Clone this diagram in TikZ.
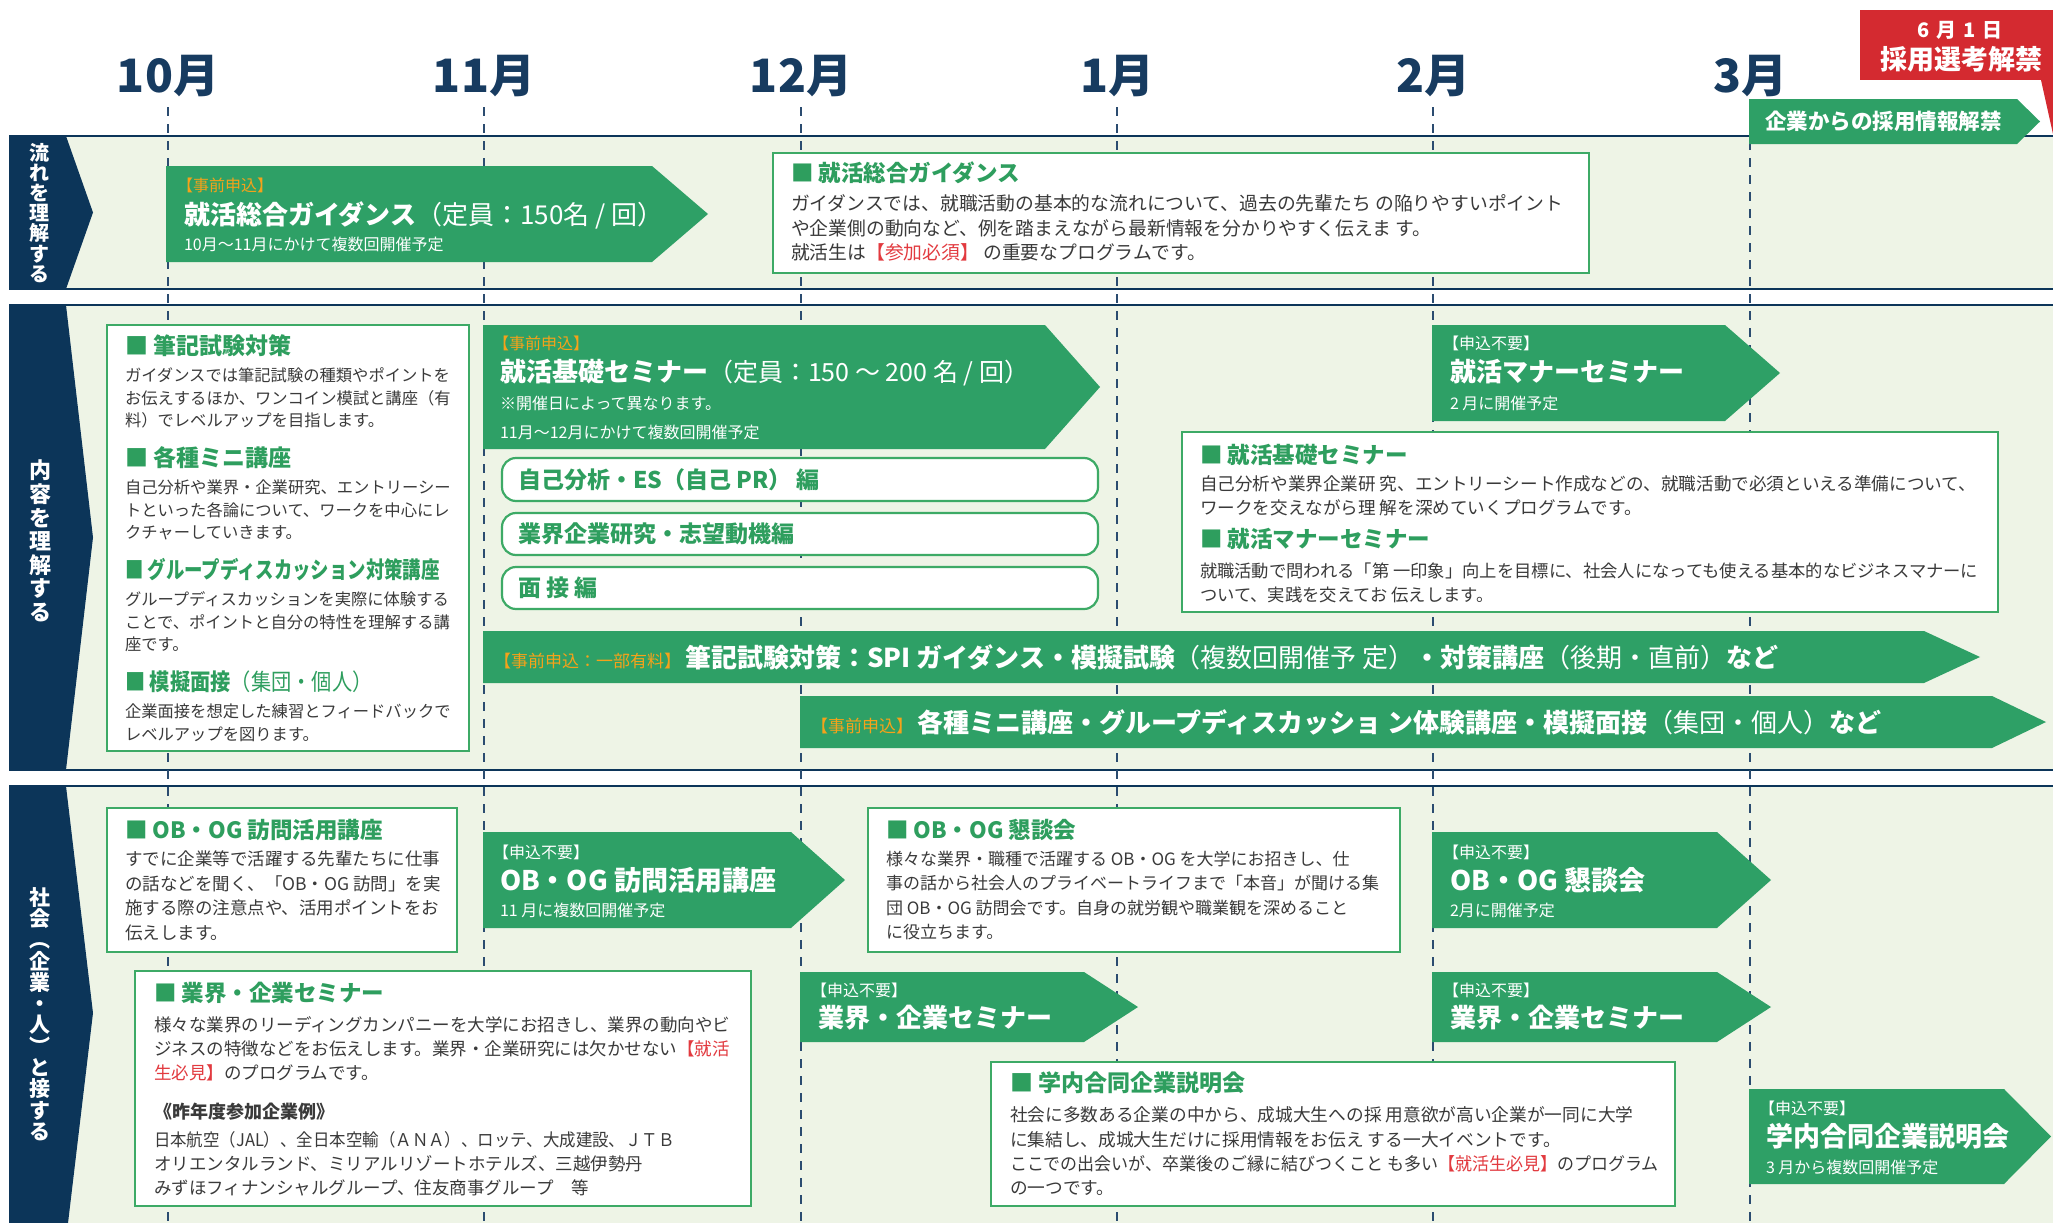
\documentclass[tikz,border=0pt]{standalone}
\usepackage{fontspec}
\setmainfont{Noto Sans CJK JP}
\usetikzlibrary{calc}
\definecolor{navy}{HTML}{0C3559}
\definecolor{monthnavy}{HTML}{173B60}
\definecolor{dashc}{HTML}{2B4C70}
\definecolor{agreen}{HTML}{2EA066}
\definecolor{bgreen}{HTML}{3DAA66}
\definecolor{tgreen}{HTML}{2E9E5E}
\definecolor{bandbg}{HTML}{EEF4E6}
\definecolor{tagorange}{HTML}{F5A21A}
\definecolor{redbox}{HTML}{D42A30}
\definecolor{redtext}{HTML}{E23A3F}
\definecolor{bodygray}{HTML}{3A3A3A}
\newcommand\fsz[2]{\fontsize{#1}{#2}\selectfont}
\newcommand\rt[1]{\textcolor{redtext}{#1}}
\newcommand\garrow[6]{\fill[agreen] (#2,#3) -- (#4,#3) -- (#5,{(#3+#6)/2}) -- (#4,#6) -- (#2,#6) -- cycle; \coordinate (#1) at (#2,#3);}
\tikzset{
  every node/.style={inner sep=0pt, outer sep=0pt},
  wbox/.style={draw=bgreen, fill=white, line width=2.2pt},
  rbox/.style={draw=bgreen, fill=white, line width=2.2pt, rounded corners=14pt},
  ttl/.style={anchor=west, text=tgreen, font=\bfseries\fsz{22.5}{26}},
  body/.style={anchor=north west, align=left, text=bodygray},
  tagw/.style={anchor=west, text=white, font=\fsz{16}{18}},
  tago/.style={anchor=west, text=tagorange, font=\fsz{16}{18}},
  atitle/.style={anchor=west, text=white, font=\bfseries\fsz{26}{30}},
  asub/.style={anchor=west, text=white, font=\fsz{16}{18}},
  vlabel/.style={align=center, text=white},
  month/.style={text=monthnavy, font=\bfseries\fsz{46}{50}},
  bandline/.style={draw=navy, line width=2.2pt},
  dashline/.style={draw=dashc, line width=2pt, dash pattern=on 9pt off 8pt},
}
\begin{document}
\begin{tikzpicture}[x=1pt,y=-1pt]
\useasboundingbox (0,0) rectangle (2053,1223);
\fill[white] (0,0) rectangle (2053,1223);

% ---- bands
\foreach \t/\b in {136/289,305/770,786/1240}{
  \fill[bandbg] (9,\t) rectangle (2053,\b);
  \draw[bandline] (9,\t) -- (2053,\t);
  \draw[bandline] (9,\b) -- (2053,\b);
  \fill[navy] (9,\t) -- (66,\t) -- (93,{(\t+\b)/2}) -- (66,\b) -- (9,\b) -- cycle;
}
\node[vlabel, font=\bfseries\fsz{20}{20.1}] (lab1) at (39,213) {流\\れ\\を\\理\\解\\す\\る};
\node[vlabel, font=\bfseries\fsz{22}{23.6}] (lab2) at (40,541) {内\\容\\を\\理\\解\\す\\る};
\node[vlabel, font=\bfseries\fsz{21}{21.3}] (lab3) at (40,1014) {社\\会\\︵\\企\\業\\・\\人\\︶\\と\\接\\す\\る};

% ---- months and dashed lines
\foreach \x/\m in {168/10,484/11,801/12,1117/1,1433/2,1750/3}{
  \node[month] (m\m) at (\x,76) {\m 月};
  \draw[dashline] (\x,107) -- (\x,1223);
}

% ---- red label and release arrow
\fill[redbox] (1860,10) rectangle (2053,80);
\fill[redbox] (2041,80) -- (2053,134) -- (2053,80) -- cycle;
\node[text=white, font=\bfseries\fsz{20}{22}] (red1) at (1960,30) {6\hspace{7pt}月\hspace{7pt}1\hspace{7pt}日};
\node[text=white, font=\bfseries\fsz{27}{30}] (red2) at (1961,59) {採用選考解禁};
\garrow{kaikin}{1749}{99}{2017}{2040}{144}
\node[anchor=west, text=white, font=\bfseries\fsz{21.5}{24}] (kaikint) at (1765,121.5) {企業からの採用情報解禁};

% ---- band 1
\garrow{ga1}{166}{166}{652}{708}{262}
\node[tago] (ga1tag) at (177,185) {【事前申込】};
\node[atitle] (ga1t) at (184,215) {就活総合ガイダンス{\mdseries （定員：150名 / 回）}};
\node[asub] (ga1s) at (184,244) {10月～11月にかけて複数回開催予定};

\draw[wbox] (773,153) rectangle (1589,273);
\node[ttl] (b1t) at (791,173) {■ 就活総合ガイダンス};
\node[body, font=\fsz{18.8}{24.5}] (b1b) at (791,195) {ガイダンスでは、就職活動の基本的な流れについて、過去の先輩たち の陥りやすいポイント\\や企業側の動向など、例を踏まえながら最新情報を分かりやすく伝えま す。\\就活生は\rt{【参加必須】} の重要なプログラムです。};

% ---- band 2
\draw[wbox] (107,325) rectangle (469,751);
\node[ttl, font=\bfseries\fsz{23}{26}] (l1t) at (125,346) {■ 筆記試験対策};
\node[body, font=\fsz{16.3}{22.5}] (l1b) at (125,368) {ガイダンスでは筆記試験の種類やポイントを\\お伝えするほか、ワンコイン模試と講座（有\\料）でレベルアップを目指します。};
\node[ttl, font=\bfseries\fsz{23}{26}] (l2t) at (125,458) {■ 各種ミニ講座};
\node[body, font=\fsz{16.3}{22.5}] (l2b) at (125,480) {自己分析や業界・企業研究、エントリーシー\\トといった各論について、ワークを中心にレ\\クチャーしていきます。};
\node[ttl, font=\bfseries\fsz{23}{26}] (l3t) at (125,570) {\scalebox{0.8}[1]{■ グループディスカッション対策講座}};
\node[body, font=\fsz{16.3}{22.5}] (l3b) at (125,592) {グループディスカッションを実際に体験する\\ことで、ポイントと自分の特性を理解する講\\座です。};
\node[ttl, font=\bfseries\fsz{23}{26}] (l4t) at (125,682) {\scalebox{0.88}[1]{■ 模擬面接{\mdseries （集団・個人）}}};
\node[body, font=\fsz{16.3}{22.5}] (l4b) at (125,704) {企業面接を想定した練習とフィードバックで\\レベルアップを図ります。};

\garrow{kiso}{483}{325}{1045}{1100}{449}
\node[tago] (kisotag) at (493,343) {【事前申込】};
\node[atitle] (kisot) at (500,373) {就活基礎セミナー{\mdseries\fsz{25}{30}（定員：150 ～ 200 名 / 回）}};
\node[asub] (kisos1) at (500,403) {※開催日によって異なります。};
\node[asub] (kisos2) at (500,432) {11月～12月にかけて複数回開催予定};

\draw[rbox] (502,458) rectangle (1098,501);
\node[anchor=west, text=tgreen, font=\bfseries\fsz{23}{26}] (r1) at (518,479.5) {自己分析・ES（自己 PR） 編};
\draw[rbox] (502,513) rectangle (1098,555);
\node[anchor=west, text=tgreen, font=\bfseries\fsz{23}{26}] (r2) at (518,534) {業界企業研究・志望動機編};
\draw[rbox] (502,567) rectangle (1098,609);
\node[anchor=west, text=tgreen, font=\bfseries\fsz{23}{26}] (r3) at (518,588) {面 接 編};

\garrow{hikki}{483}{631}{1924}{1980}{683}
\node[anchor=west, text=white, font=\bfseries\fsz{26}{30}] (hikkit) at (494,657) {{\mdseries\fsz{17}{20}\textcolor{tagorange}{【事前申込：一部有料】}}\hspace{4pt}筆記試験対策：SPI ガイダンス・模擬試験{\mdseries （複数回開催予 定）}・対策講座{\mdseries （後期・直前）}など};

\garrow{mini}{800}{696}{1992}{2046}{748}
\node[anchor=west, text=white, font=\bfseries\fsz{26}{30}] (minit) at (811,722) {{\mdseries\fsz{17}{20}\textcolor{tagorange}{【事前申込】}}\hspace{4pt}各種ミニ講座・グループディスカッショ ン体験講座・模擬面接{\mdseries （集団・個人）}など};

\garrow{manner}{1432}{325}{1725}{1780}{421}
\node[tagw] (mannertag) at (1443,343) {【申込不要】};
\node[atitle] (mannert) at (1450,372) {就活マナーセミナー};
\node[asub] (manners) at (1450,403) {2 月に開催予定};

\draw[wbox] (1182,432) rectangle (1998,612);
\node[ttl] (k1t) at (1200,455) {■ 就活基礎セミナー};
\node[body, font=\fsz{17.6}{23.5}] (k1b) at (1200,476) {自己分析や業界企業研 究、エントリーシート作成などの、就職活動で必須といえる準備について、\\ワークを交えながら理 解を深めていくプログラムです。};
\node[ttl] (k2t) at (1200,539) {■ 就活マナーセミナー};
\node[body, font=\fsz{17.3}{23.5}] (k2b) at (1200,563) {就職活動で問われる「第 一印象」向上を目標に、社会人になっても使える基本的なビジネスマナーに\\ついて、実践を交えてお 伝えします。};

% ---- band 3
\draw[wbox] (107,808) rectangle (457,952);
\node[ttl] (o1t) at (125,830) {■ OB・OG 訪問活用講座};
\node[body, font=\fsz{17.5}{24.5}] (o1b) at (125,851) {すでに企業等で活躍する先輩たちに仕事\\の話などを聞く、「OB・OG 訪問」を実\\施する際の注意点や、活用ポイントをお\\伝えします。};

\garrow{ob}{483}{832}{791}{845}{928}
\node[tagw] (obtag) at (493,852) {【申込不要】};
\node[atitle, font=\bfseries\fsz{27}{30}] (obt) at (500,880) {OB・OG 訪問活用講座};
\node[asub] (obs) at (500,910) {11 月に複数回開催予定};

\draw[wbox] (868,808) rectangle (1400,952);
\node[ttl] (o2t) at (886,830) {■ OB・OG 懇談会};
\node[body, font=\fsz{17}{24.5}] (o2b) at (886,851) {様々な業界・職種で活躍する OB・OG を大学にお招きし、仕\\事の話から社会人のプライベートライフまで「本音」が聞ける集\\団 OB・OG 訪問会です。自身の就労観や職業観を深めること\\に役立ちます。};

\garrow{obk}{1432}{832}{1717}{1771}{928}
\node[tagw] (obktag) at (1443,852) {【申込不要】};
\node[atitle, font=\bfseries\fsz{27}{30}] (obkt) at (1450,880) {OB・OG 懇談会};
\node[asub] (obks) at (1450,910) {2月に開催予定};

\draw[wbox] (135,971) rectangle (751,1206);
\node[ttl] (g1t) at (154,993) {■ 業界・企業セミナー};
\node[body, font=\fsz{17.5}{24}] (g1b) at (154,1017) {様々な業界のリーディングカンパニーを大学にお招きし、業界の動向やビ\\ジネスの特徴などをお伝えします。業界・企業研究には欠かせない\rt{【就活}\\\rt{生必見】}のプログラムです。};
\node[anchor=west, text=bodygray, font=\bfseries\fsz{18}{22}] (g1e) at (154,1112) {《昨年度参加企業例》};
\node[body, font=\fsz{17.5}{24}] (g1c) at (154,1132) {\scalebox{0.94}[1]{日本航空（JAL）、全日本空輸（ＡＮＡ）、ロッテ、大成建設、ＪＴＢ}\\オリエンタルランド、ミリアルリゾートホテルズ、三越伊勢丹\\みずほフィナンシャルグループ、住友商事グループ　等};

\garrow{gk1}{800}{972}{1084}{1138}{1042}
\node[tagw] (gk1tag) at (811,990) {【申込不要】};
\node[atitle] (gk1t) at (818,1018) {業界・企業セミナー};

\garrow{gk2}{1432}{972}{1717}{1771}{1042}
\node[tagw] (gk2tag) at (1443,990) {【申込不要】};
\node[atitle] (gk2t) at (1450,1018) {業界・企業セミナー};

\draw[wbox] (991,1062) rectangle (1675,1206);
\node[ttl, font=\bfseries\fsz{23}{26}] (gnt) at (1010,1083) {■ 学内合同企業説明会};
\node[body, font=\fsz{17.7}{24.3}] (gnb) at (1010,1107) {社会に多数ある企業の中から、成城大生への採 用意欲が高い企業が一同に大学\\に集結し、成城大生だけに採用情報をお伝え する一大イベントです。\\\scalebox{0.96}[1]{ここでの出会いが、卒業後のご縁に結びつくこと も多い\rt{【就活生必見】}のプログラム}\\の一つです。};

\garrow{gakunai}{1749}{1089}{2004}{2051}{1184}
\node[tagw] (gktag) at (1759,1108) {【申込不要】};
\node[atitle, font=\bfseries\fsz{27}{30}] (gkt) at (1766,1136) {学内合同企業説明会};
\node[asub] (gks) at (1766,1167) {3 月から複数回開催予定};
\end{tikzpicture}
\end{document}
